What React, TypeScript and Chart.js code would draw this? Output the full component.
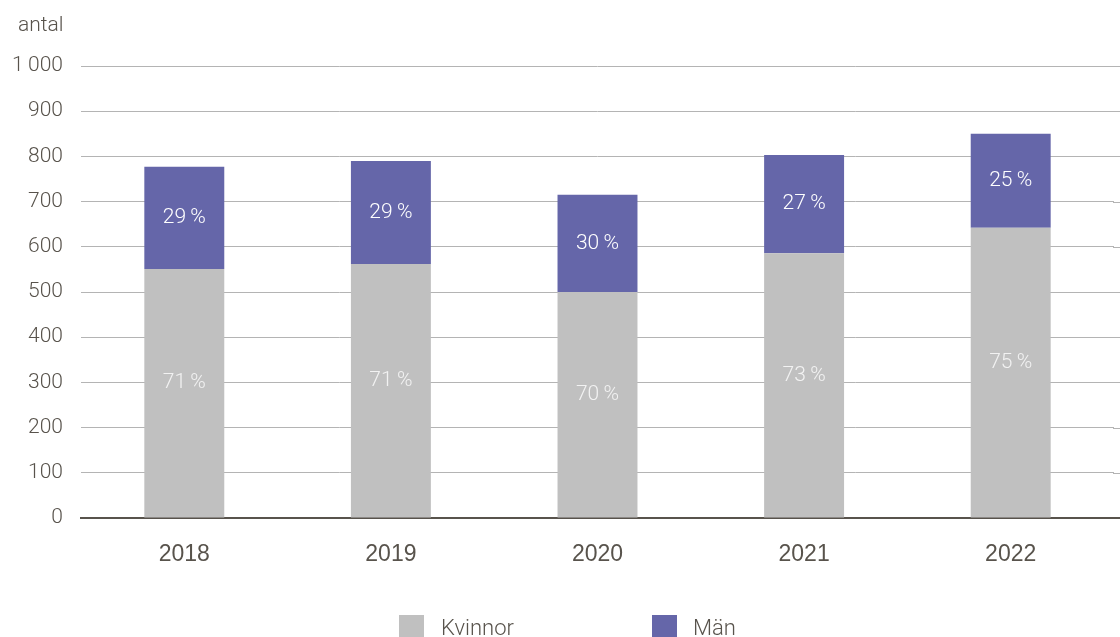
import React, { useEffect, useRef } from "react";
import { Chart, registerables } from "chart.js";

Chart.register(...registerables);

const years = ["2018", "2019", "2020", "2021", "2022"];
const kvinnor = [551, 562, 500, 586, 642];
const man = [226, 228, 215, 217, 208];
const kvinnorPct = ["71", "71", "70", "73", "75"];
const manPct = ["29", "29", "30", "27", "25"];
const yTicks = [0, 100, 200, 300, 400, 500, 600, 700, 800, 900, 1000];

const GRAY = "#c0c0c0";
const PURPLE = "#6566a9";
const TEXT = "#58534c";
const GRID = "#b4b4b4";
const LIGHT = "Roboto";
const REG = "'Liberation Sans', Arial, sans-serif";

const extendPlugin = {
  id: "extendGrid",
  beforeDatasetsDraw(chart: any) {
    const ctx = chart.ctx;
    const y = chart.scales.y;
    const right = chart.width;
    const { right: r } = chart.chartArea;
    ctx.save();
    yTicks.forEach((v) => {
      const py = y.getPixelForValue(v);
      ctx.beginPath();
      if (v === 0) {
        ctx.strokeStyle = TEXT;
        ctx.lineWidth = 2;
      } else {
        ctx.strokeStyle = GRID;
        ctx.lineWidth = 1;
      }
      const off = v === 0 ? 0 : 0.5;
      ctx.moveTo(r - 1, Math.round(py) + off);
      ctx.lineTo(right, Math.round(py) + off);
      ctx.stroke();
    });
    ctx.restore();
  },
};

const labelPlugin = {
  id: "segLabels",
  afterDatasetsDraw(chart: any) {
    const ctx = chart.ctx;
    ctx.save();
    ctx.font = `300 21px ${LIGHT}`;
    ctx.textAlign = "center";
    ctx.textBaseline = "middle";
    const sets = [
      { idx: 0, labels: kvinnorPct, color: "#f2f2f2", shift: -10 },
      { idx: 1, labels: manPct, color: "#ffffff", shift: 0 },
    ];
    sets.forEach((s) => {
      const meta = chart.getDatasetMeta(s.idx);
      meta.data.forEach((bar: any, i: number) => {
        const y = (bar.y + bar.base) / 2 + s.shift;
        ctx.fillStyle = s.color;
        ctx.fillText(`${s.labels[i]}\u2009%`, bar.x, y);
      });
    });
    ctx.restore();
  },
};

export default function App() {
  const ref = useRef<HTMLCanvasElement>(null);
  useEffect(() => {
    document.body.style.margin = "0";
    if (!ref.current) return;
    const chart = new Chart(ref.current, {
      type: "bar",
      data: {
        labels: years,
        datasets: [
          { label: "Kvinnor", data: kvinnor, backgroundColor: GRAY, barPercentage: 0.387, categoryPercentage: 1 },
          { label: "Män", data: man, backgroundColor: PURPLE, barPercentage: 0.387, categoryPercentage: 1 },
        ],
      },
      options: {
        animation: false,
        responsive: false,
        maintainAspectRatio: false,
        layout: { padding: { top: 66, right: 6, left: 0, bottom: 0 } },
        plugins: { legend: { display: false }, tooltip: { enabled: false } },
        scales: {
          x: {
            stacked: true,
            grid: { display: false, drawTicks: false },
            border: { display: true, color: TEXT, width: 2 },
            ticks: { color: TEXT, font: { family: REG, size: 23, weight: 400 }, padding: 23 },
            afterFit: (s: any) => { s.height = 119; },
          },
          y: {
            stacked: true,
            min: 0,
            max: 1000,
            afterBuildTicks: (s: any) => { s.ticks = yTicks.map((v) => ({ value: v })); },
            grid: { color: GRID, lineWidth: 1, drawTicks: false },
            border: { display: false },
            ticks: {
              color: TEXT,
              font: { family: LIGHT, size: 21, weight: 300 },
              padding: 18,
              callback: (v: any) => String(v).replace(/\B(?=(\d{3})+(?!\d))/g, "\u2009"),
            },
            afterFit: (s: any) => { s.width = 81; },
          },
        },
      },
      plugins: [extendPlugin, labelPlugin],
    });
    return () => chart.destroy();
  }, []);

  const legendText: React.CSSProperties = {
    position: "absolute",
    top: 614,
    fontFamily: LIGHT,
    fontWeight: 300,
    fontSize: 22,
    color: TEXT,
    lineHeight: "28px",
    whiteSpace: "nowrap",
  };

  return (
    <div style={{ position: "relative", width: 1120, height: 637, overflow: "hidden", background: "#fff" }}>
      <canvas ref={ref} width={1120} height={637} style={{ display: "block" }} />
      <div style={{ position: "absolute", left: 18, top: 12, fontFamily: LIGHT, fontWeight: 300, fontSize: 21, color: TEXT }}>antal</div>
      <div style={{ position: "absolute", left: 399, top: 615, width: 25, height: 22, background: GRAY }} />
      <div style={{ ...legendText, left: 441 }}>Kvinnor</div>
      <div style={{ position: "absolute", left: 652, top: 615, width: 25, height: 22, background: PURPLE }} />
      <div style={{ ...legendText, left: 693 }}>Män</div>
    </div>
  );
}
